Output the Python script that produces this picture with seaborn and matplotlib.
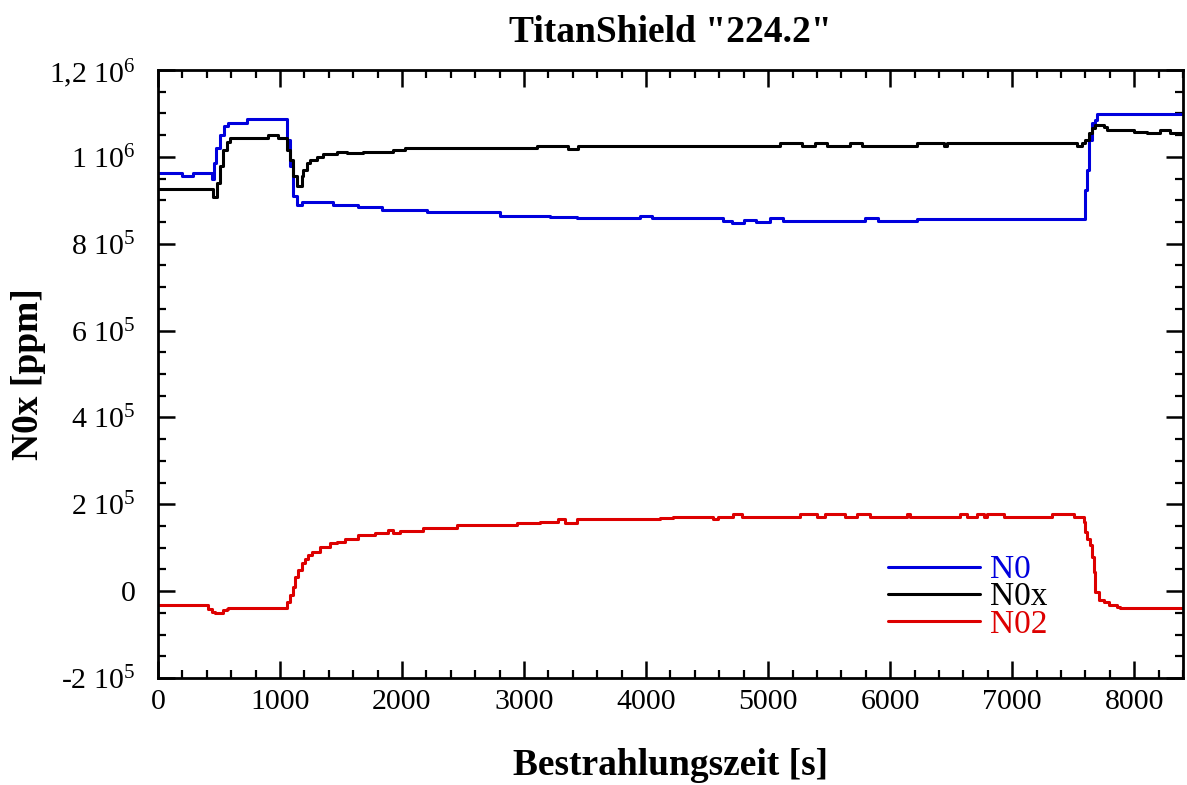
import matplotlib
matplotlib.use("Agg")
import matplotlib.pyplot as plt
import seaborn as sns
import pandas as pd
from matplotlib.ticker import MultipleLocator, FixedLocator, FixedFormatter

# ---------------- data ----------------
no_t = [0, 200, 290, 440, 460, 480, 510, 540, 574, 727, 1055, 1082, 1110, 1137, 1178,
        1434, 1639, 1833, 2202, 2803, 3213, 3432, 3950, 4050, 4631, 4700, 4800, 4900,
        5016, 5123, 5369, 5795, 5902, 6221, 7311, 7598, 7615, 7631, 7656, 7680, 7694, 8400]
no_v = [963e3, 956e3, 963e3, 950e3, 985e3, 1020e3, 1050e3, 1070e3, 1078e3, 1087e3,
        1040e3, 980e3, 910e3, 889e3, 897e3, 889e3, 884e3, 878e3, 872e3, 865e3, 862e3,
        859e3, 864e3, 859e3, 852e3, 848e3, 854e3, 850e3, 859e3, 853e3, 853e3, 859e3,
        853e3, 858e3, 858e3, 924e3, 970e3, 1040e3, 1078e3, 1085e3, 1099e3, 1099e3]

nox_t = [0, 440, 454, 481, 508, 535, 563, 590, 904, 986, 1041, 1055, 1082, 1109, 1137,
         1178, 1191, 1219, 1246, 1301, 1355, 1465, 1547, 1683, 1929, 2025, 3104, 3363,
         3445, 5098, 5276, 5385, 5481, 5672, 5768, 5904, 6219, 6437, 6465, 7530, 7570,
         7598, 7626, 7653, 7680, 7749, 7776, 7803, 7995, 8104, 8213, 8295, 8391, 8400]
nox_v = [926e3, 926e3, 908e3, 940e3, 978e3, 1016e3, 1035e3, 1043e3, 1051e3, 1043e3,
         1043e3, 1016e3, 993e3, 955e3, 932e3, 955e3, 970e3, 986e3, 993e3, 999e3, 1007e3,
         1012e3, 1009e3, 1012e3, 1016e3, 1020e3, 1025e3, 1017e3, 1024e3, 1031e3, 1024e3,
         1031e3, 1024e3, 1031e3, 1024e3, 1024e3, 1031e3, 1024e3, 1031e3, 1024e3, 1031e3,
         1039e3, 1055e3, 1066e3, 1074e3, 1068e3, 1062e3, 1062e3, 1058e3, 1056e3, 1062e3,
         1056e3, 1052e3, 1052e3]

no2_t = [0, 413, 440, 467, 494, 535, 563, 577, 1055, 1082, 1109, 1123, 1150, 1178, 1205,
         1232, 1260, 1328, 1410, 1465, 1533, 1642, 1779, 1888, 1929, 1984, 2175, 2448,
         2940, 3131, 3281, 3336, 3432, 4115, 4224, 4552, 4590, 4716, 4784, 5262, 5399,
         5467, 5631, 5727, 5836, 6137, 6164, 6574, 6629, 6711, 6765, 6793, 6929, 7325,
         7503, 7585, 7598, 7612, 7639, 7653, 7667, 7680, 7708, 7749, 7790, 7858, 7885, 8400]
no2_v = [-32e3, -40e3, -49e3, -51e3, -51e3, -44e3, -40e3, -38e3, -25e3, -9e3, 10e3, 33e3,
         48e3, 64e3, 74e3, 83e3, 91e3, 102e3, 110e3, 114e3, 121e3, 129e3, 134e3, 140e3,
         134e3, 139e3, 146e3, 152e3, 158e3, 160e3, 166e3, 158e3, 166e3, 169e3, 171e3,
         167e3, 171e3, 177e3, 171e3, 177e3, 171e3, 177e3, 171e3, 177e3, 171e3, 177e3,
         171e3, 177e3, 171e3, 177e3, 171e3, 177e3, 171e3, 177e3, 171e3, 160e3, 137e3,
         121e3, 106e3, 79e3, 45e3, -2e3, -21e3, -26e3, -31e3, -36e3, -38e3, -38e3]

series_names = ["N0", "N0x", "N02"]
series_colors = ["#0000dd", "#000000", "#dd0000"]

y_ticks = [-2e5, 0, 2e5, 4e5, 6e5, 8e5, 1e6, 1.2e6]
y_ticklabels = [r"-2 10$^{5}$", "0", r"2 10$^{5}$", r"4 10$^{5}$", r"6 10$^{5}$",
                r"8 10$^{5}$", r"1 10$^{6}$", r"1,2 10$^{6}$"]

title = 'TitanShield "224.2"'
x_label = "Bestrahlungszeit [s]"
y_label = "N0x [ppm]"

# ---------------- styling ----------------
sns.set_theme(style="ticks")
plt.rcParams["font.family"] = ["Liberation Serif", "DejaVu Serif"]
plt.rcParams["mathtext.fontset"] = "custom"
plt.rcParams["mathtext.rm"] = "Liberation Serif"
plt.rcParams["mathtext.default"] = "regular"
plt.rcParams["text.color"] = "black"
plt.rcParams["axes.labelcolor"] = "black"
plt.rcParams["xtick.color"] = "black"
plt.rcParams["ytick.color"] = "black"

fig = plt.figure(figsize=(11.87, 7.85), dpi=100)
ax = fig.add_axes([0.133, 0.1363, 0.8637, 0.7745])

frames = [
    pd.DataFrame({"t": no_t, "v": no_v, "s": series_names[0]}),
    pd.DataFrame({"t": nox_t, "v": nox_v, "s": series_names[1]}),
    pd.DataFrame({"t": no2_t, "v": no2_v, "s": series_names[2]}),
]
for df, name, col in zip(frames, series_names, series_colors):
    sns.lineplot(data=df, x="t", y="v", ax=ax, color=col, linewidth=2.2,
                 drawstyle="steps-post", estimator=None, sort=False, label=name)

ax.set_xlim(0, 8400)
ax.set_ylim(-2e5, 1.2e6)
ax.xaxis.set_major_locator(MultipleLocator(1000))
ax.xaxis.set_minor_locator(MultipleLocator(200))
ax.yaxis.set_major_locator(FixedLocator(y_ticks))
ax.yaxis.set_major_formatter(FixedFormatter(y_ticklabels))
ax.yaxis.set_minor_locator(MultipleLocator(5e4))

for s in ax.spines.values():
    s.set_linewidth(2.0)
    s.set_color("black")
ax.tick_params(which="both", direction="in", top=True, right=True, colors="black",
               labelsize=21.5)
ax.tick_params(which="major", length=12, width=1.8)
ax.tick_params(which="minor", length=6, width=1.6)
ax.tick_params(axis="y", which="major", pad=16)
ax.tick_params(axis="x", which="major", pad=8)

ax.set_title(title, fontsize=27, fontweight="bold", pad=20, color="black")
ax.set_xlabel(x_label, fontsize=27, fontweight="bold", labelpad=24)
ax.set_ylabel(y_label, fontsize=27, fontweight="bold", labelpad=2)

leg = ax.legend(loc="center left", bbox_to_anchor=(0.712, 0.133), frameon=False,
                fontsize=24, labelcolor="linecolor", handlelength=2.76,
                handletextpad=0.3, labelspacing=-0.1, borderpad=0.0,
                borderaxespad=0.0)

fig.savefig("out.png", dpi=100)
